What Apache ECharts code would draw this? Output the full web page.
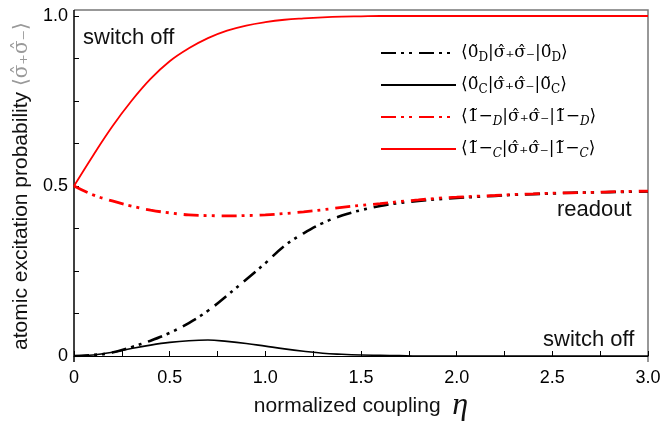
<!DOCTYPE html>
<html>
<head>
<meta charset="utf-8">
<script src="https://cdn.jsdelivr.net/npm/echarts@6/dist/echarts.min.js"></script>
<style>
  html, body { margin: 0; padding: 0; background: #fff; }
  #chart { width: 663px; height: 422px; }
</style>
</head>
<body>
<div id="chart"></div>
<script>
// normalized coupling eta
const eta = [0, 0.1, 0.2, 0.3, 0.4, 0.5, 0.6, 0.7, 0.8, 0.9, 1.0, 1.1, 1.2, 1.3, 1.4, 1.5,
  1.6, 1.7, 1.8, 1.9, 2.0, 2.1, 2.2, 2.3, 2.4, 2.5, 2.6, 2.7, 2.8, 2.9, 3.0];

// <0D|s+s-|0D>  black dash-dot
const zeroD = [0, 0.003, 0.01, 0.026, 0.045, 0.068, 0.097, 0.133, 0.178, 0.225, 0.273, 0.324, 0.361,
  0.391, 0.413, 0.429, 0.441, 0.45, 0.456, 0.461, 0.465, 0.468, 0.471, 0.474, 0.476, 0.478,
  0.48, 0.481, 0.482, 0.483, 0.484];
// <0C|s+s-|0C>  black solid
const zeroC = [0, 0.003, 0.011, 0.022, 0.032, 0.04, 0.045, 0.047, 0.043, 0.037, 0.029, 0.021, 0.014,
  0.008, 0.005, 0.003, 0.002, 0.001, 0, 0, 0, 0, 0, 0, 0, 0, 0, 0, 0, 0, 0];
// <1-D|s+s-|1-D>  red dash-dot
const oneD = [0.5, 0.474, 0.456, 0.441, 0.429, 0.421, 0.415, 0.413, 0.412, 0.413, 0.415, 0.419, 0.424,
  0.43, 0.437, 0.443, 0.448, 0.454, 0.459, 0.464, 0.467, 0.47, 0.472, 0.475, 0.477, 0.479,
  0.48, 0.481, 0.483, 0.484, 0.485];
// <1-C|s+s-|1-C>  red solid
const oneC = [0.5, 0.59, 0.675, 0.75, 0.815, 0.867, 0.905, 0.935, 0.957, 0.972, 0.982, 0.989, 0.993,
  0.996, 0.998, 0.999, 1, 1, 1, 1, 1, 1, 1, 1, 1, 1, 1, 1, 1, 1, 1];

const seriesNames = ['0D', '0C', '1D', '1C'];
const legendLabels = {
  '0D': '⟨0\u0303{s|D}|σ\u0302₊σ\u0302₋|0\u0303{s|D}⟩',
  '0C': '⟨0\u0303{s|C}|σ\u0302₊σ\u0302₋|0\u0303{s|C}⟩',
  '1D': '⟨1\u0303−{si|D}|σ\u0302₊σ\u0302₋|1\u0303−{si|D}⟩',
  '1C': '⟨1\u0303−{si|C}|σ\u0302₊σ\u0302₋|1\u0303−{si|C}⟩'
};
const xTicks = [0, 0.5, 1.0, 1.5, 2.0, 2.5, 3.0];

const pairs = (vals) => eta.map((x, i) => [x, vals[i]]);
const dashDot = [15, 5, 3, 5, 3, 7];

const chart = echarts.init(document.getElementById('chart'), null, { renderer: 'canvas' });

const sans = 'Liberation Sans, Arial, sans-serif';
const serif = 'DejaVu Serif, serif';

const option = {
  animation: false,
  backgroundColor: '#fff',
  grid: { left: 74, right: 15, top: 16, bottom: 66, outerBoundsMode: 'none', containLabel: false },
  legend: {
    data: seriesNames,
    orient: 'vertical',
    left: 375,
    top: 37,
    itemWidth: 75,
    itemHeight: 14,
    itemGap: 10,
    itemStyle: { opacity: 0 },
    formatter: (name) => legendLabels[name],
    textStyle: {
      fontFamily: serif, fontSize: 17, color: '#000', lineHeight: 22,
      rich: {
        s: { fontFamily: serif, fontSize: 12, color: '#000', verticalAlign: 'bottom', lineHeight: 10 },
        si: { fontFamily: serif, fontSize: 12, fontStyle: 'italic', color: '#000', verticalAlign: 'bottom', lineHeight: 10 }
      }
    }
  },
  xAxis: {
    type: 'value',
    min: 0,
    max: 3,
    interval: 0.5,
    offset: 6,
    name: 'normalized coupling  {e|η}',
    nameLocation: 'middle',
    nameGap: 28,
    nameMoveOverlap: false,
    nameTextStyle: {
      fontFamily: sans, fontSize: 21, color: '#111',
      rich: { e: { fontFamily: 'Liberation Serif, serif', fontStyle: 'italic', fontSize: 32, color: '#111' } }
    },
    axisLine: { show: true, lineStyle: { color: '#000', width: 1 } },
    axisTick: { show: true, inside: true, length: 5, lineStyle: { color: '#000' } },
    minorTick: { show: true, splitNumber: 2, length: 5, lineStyle: { color: '#000' } },
    axisLabel: {
      margin: 7, fontFamily: sans, fontSize: 18, color: '#000',
      formatter: (v) => xTicks.includes(v) ? (v === 0 ? '0' : v.toFixed(1)) : ''
    },
    splitLine: { show: false }
  },
  yAxis: {
    type: 'value',
    min: 0,
    max: 1,
    interval: 0.5,
    name: 'atomic excitation probability {m|⟨σ\u0302₊σ\u0302₋⟩}',
    nameLocation: 'middle',
    nameRotate: 90,
    nameGap: 42,
    nameMoveOverlap: false,
    nameTextStyle: {
      fontFamily: sans, fontSize: 21, color: '#111',
      rich: { m: { fontFamily: serif, fontSize: 20, color: '#999' } }
    },
    axisLine: { show: false },
    axisTick: { show: true, inside: true, length: 5, lineStyle: { color: '#000' } },
    minorTick: { show: true, splitNumber: 4, length: 5, lineStyle: { color: '#000' } },
    axisLabel: {
      margin: 6, fontFamily: sans, fontSize: 18, color: '#000',
      formatter: (v) => v === 0 ? '0' : v.toFixed(1)
    },
    splitLine: { show: false }
  },
  graphic: [
    { type: 'polyline', shape: { points: [[74, 10], [648, 10], [648, 362]] }, style: { stroke: '#777', lineWidth: 1.5, fill: null }, silent: true },
    { type: 'polyline', shape: { points: [[74, 10], [74, 362]] }, style: { stroke: '#000', lineWidth: 1.5, fill: null }, silent: true },
    { type: 'text', left: 83, top: 27, style: { text: 'switch off', font: '22px Liberation Sans', fill: '#111' } },
    { type: 'text', left: 557, top: 199, style: { text: 'readout', font: '22px Liberation Sans', fill: '#111' } },
    { type: 'text', left: 543, top: 329, style: { text: 'switch off', font: '22px Liberation Sans', fill: '#111' } }
  ],
  series: [
    {
      name: '0D', type: 'line', data: pairs(zeroD), smooth: 0.4, showSymbol: false, symbol: 'none',
      lineStyle: { color: '#000', width: 2.6, type: dashDot, cap: 'butt' }, itemStyle: { color: '#000' }, z: 3
    },
    {
      name: '0C', type: 'line', data: pairs(zeroC), smooth: 0.4, showSymbol: false, symbol: 'none',
      lineStyle: { color: '#000', width: 1.6, type: 'solid' }, itemStyle: { color: '#000' }, z: 2
    },
    {
      name: '1D', type: 'line', data: pairs(oneD), smooth: 0.4, showSymbol: false, symbol: 'none',
      lineStyle: { color: '#ff0000', width: 2.8, type: dashDot, cap: 'butt' }, itemStyle: { color: '#ff0000' }, z: 4
    },
    {
      name: '1C', type: 'line', data: pairs(oneC), smooth: 0.4, showSymbol: false, symbol: 'none',
      lineStyle: { color: '#ff0000', width: 1.8, type: 'solid' }, itemStyle: { color: '#ff0000' }, z: 4
    }
  ]
};

chart.setOption(option);
window.addEventListener('resize', () => chart.resize());
</script>
</body>
</html>
